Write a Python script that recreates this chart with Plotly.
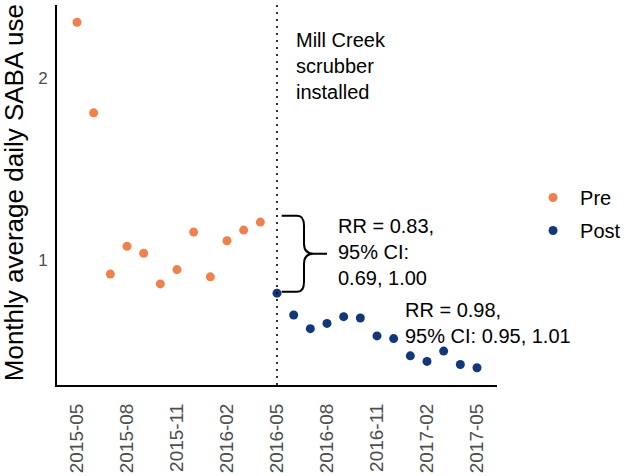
import plotly.graph_objects as go

months = ["2015-05", "2015-06", "2015-07", "2015-08", "2015-09", "2015-10",
          "2015-11", "2015-12", "2016-01", "2016-02", "2016-03", "2016-04",
          "2016-05", "2016-06", "2016-07", "2016-08", "2016-09", "2016-10",
          "2016-11", "2016-12", "2017-01", "2017-02", "2017-03", "2017-04",
          "2017-05"]
pre_values = [2.31, 1.81, 0.92, 1.073, 1.035, 0.866, 0.945, 1.152, 0.905,
              1.104, 1.163, 1.207]
post_values = [0.815, 0.694, 0.619, 0.648, 0.685, 0.678, 0.579, 0.564,
               0.469, 0.438, 0.495, 0.421, 0.403]
tick_labels = ["2015-05", "2015-08", "2015-11", "2016-02", "2016-05",
               "2016-08", "2016-11", "2017-02", "2017-05"]
intervention = "2016-05"
brace_top, brace_bottom = 1.242, 0.823

pre_x = list(range(len(pre_values)))
post_x = list(range(len(pre_values), len(pre_values) + len(post_values)))
tick_vals = [months.index(t) for t in tick_labels]
ix = months.index(intervention)

ORANGE = "#F0804C"
BLUE = "#12377A"
FONT = "Liberation Sans, Arial, sans-serif"

fig = go.Figure()
fig.add_trace(go.Scatter(x=pre_x, y=pre_values, mode="markers", name="Pre",
                         legendgroup="pre",
                         marker=dict(color=ORANGE, size=9)))
fig.add_trace(go.Scatter(x=post_x, y=post_values, mode="markers", name="Post",
                         legendgroup="post",
                         marker=dict(color=BLUE, size=9)))

# intervention line
fig.add_shape(type="line", x0=ix, x1=ix, y0=0, y1=1, xref="x", yref="paper",
              line=dict(color="black", width=1.6, dash="2px,5px"))

# curly brace
xl = ix + 0.28
xv = ix + 1.62
xt = ix + 3.0
mid = (brace_top + brace_bottom) / 2
r = 0.055
path = (f"M {xl},{brace_top} L {xv-0.4},{brace_top} "
        f"Q {xv},{brace_top} {xv},{brace_top-r} "
        f"L {xv},{mid+r} Q {xv},{mid} {xv+0.6},{mid} L {xt},{mid} "
        f"M {xv+0.6},{mid} Q {xv},{mid} {xv},{mid-r} "
        f"L {xv},{brace_bottom+r} Q {xv},{brace_bottom} {xv-0.4},{brace_bottom} "
        f"L {xl},{brace_bottom}")
fig.add_shape(type="path", path=path, xref="x", yref="y",
              line=dict(color="black", width=2))

fig.add_annotation(x=ix + 1.0, y=2.07, xref="x", yref="y",
                   text="Mill Creek<br>scrubber<br>installed", showarrow=False,
                   xanchor="left", yanchor="middle", align="left",
                   font=dict(size=20, color="black", family=FONT))
fig.add_annotation(x=ix + 3.55, y=mid + 0.01, xref="x", yref="y",
                   text="RR = 0.83,<br>95% CI:<br>0.69, 1.00", showarrow=False,
                   xanchor="left", yanchor="middle", align="left",
                   font=dict(size=20, color="black", family=FONT))
fig.add_annotation(x=ix + 7.55, y=0.65, xref="x", yref="y",
                   text="RR = 0.98,<br>95% CI: 0.95, 1.01", showarrow=False,
                   xanchor="left", yanchor="middle", align="left",
                   font=dict(size=20, color="black", family=FONT))

# y-axis title (placed as rotated text to match the reference's position)
fig.add_annotation(x=-0.098, y=0.507, xref="paper", yref="paper",
                   text="Monthly average daily SABA use", showarrow=False,
                   textangle=-90, xanchor="center", yanchor="middle",
                   font=dict(size=26, color="black", family=FONT))

fig.update_layout(
    width=625, height=476,
    margin=dict(l=57, r=128, t=5, b=91, autoexpand=False),
    plot_bgcolor="white", paper_bgcolor="white",
    font=dict(family=FONT, color="black"),
    showlegend=True,
    legend=dict(x=1.066, y=0.45, xanchor="left", yanchor="middle",
                traceorder="grouped", tracegroupgap=4, itemwidth=44,
                font=dict(size=20, color="black"), bgcolor="rgba(0,0,0,0)"),
    xaxis=dict(range=[-1.2, len(months) - 1 + 1.2], tickmode="array",
               tickvals=tick_vals, ticktext=tick_labels, tickangle=-90,
               showgrid=False, zeroline=False, showline=True,
               linecolor="black", linewidth=2, ticks="outside", ticklen=9,
               tickcolor="rgba(0,0,0,0)", automargin=False,
               tickfont=dict(size=19, color="#4D4D4D")),
    yaxis=dict(range=[0.308, 2.405], tickmode="array", tickvals=[1, 2],
               ticktext=["1", "2"], showgrid=False, zeroline=False,
               showline=True, linecolor="black", linewidth=2,
               ticks="outside", ticklen=4, tickcolor="rgba(0,0,0,0)",
               automargin=False,
               tickfont=dict(size=17, color="#4D4D4D")),
)

fig.write_html("out.html", config={"displayModeBar": False},
               post_script="document.body.style.margin='0px';")
